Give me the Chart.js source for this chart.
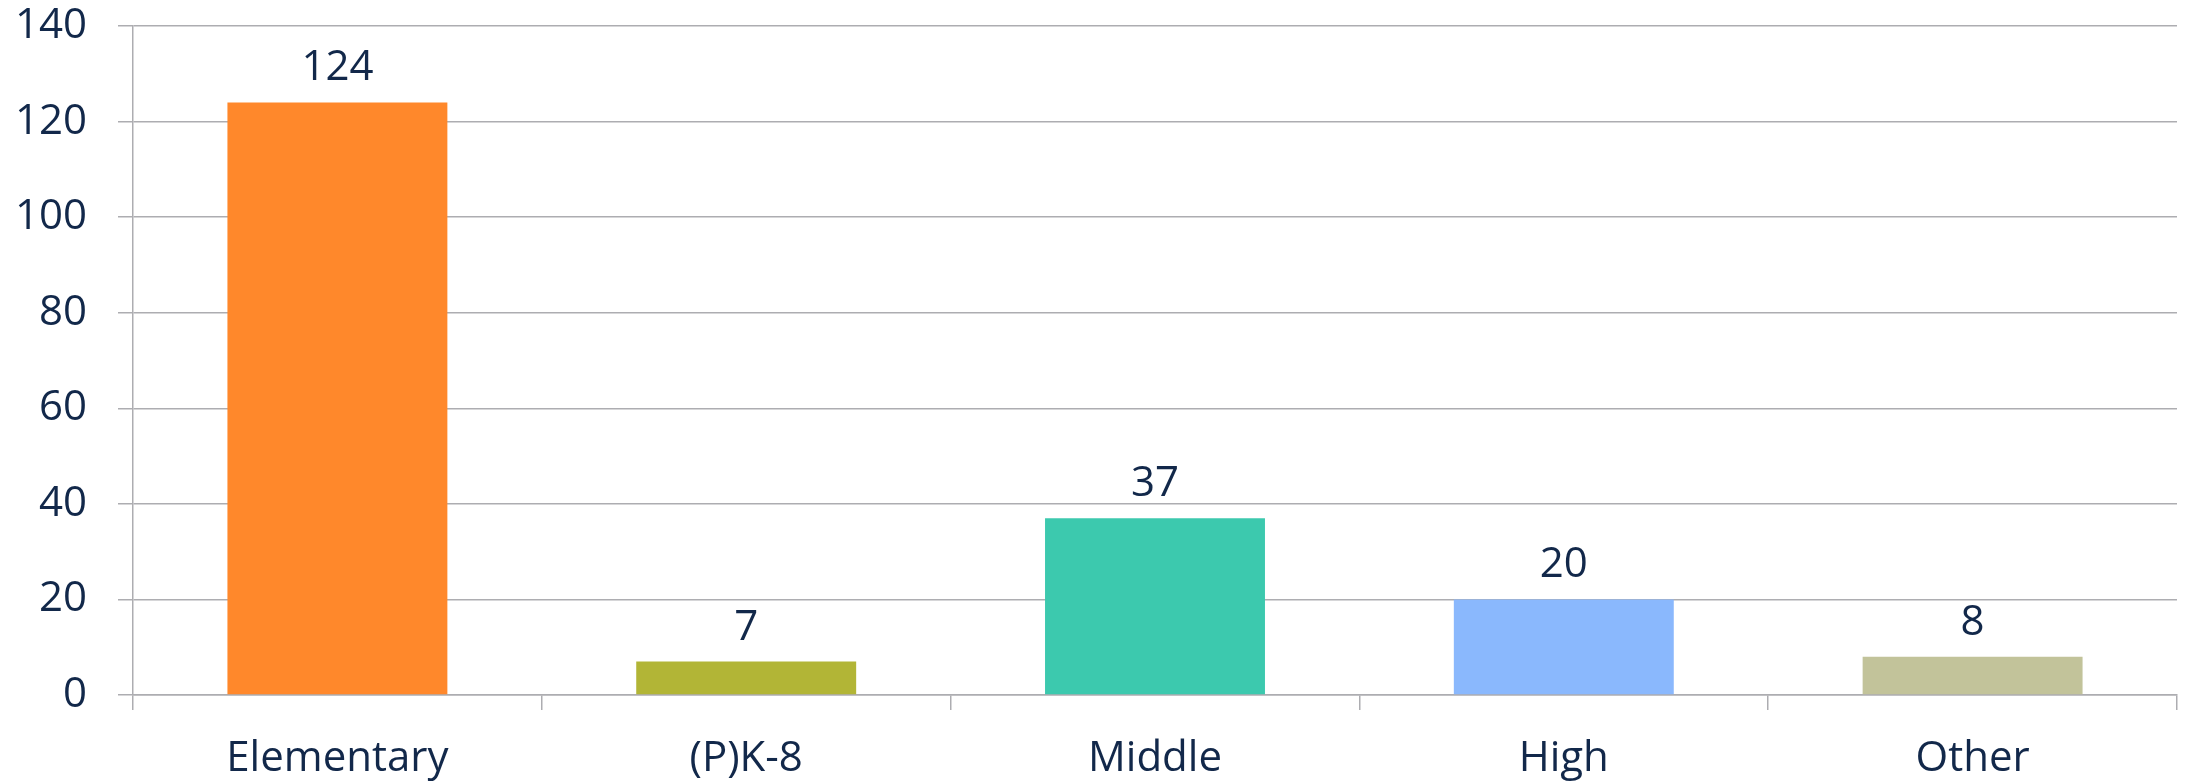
<!DOCTYPE html>
<html>
<head>
<meta charset="utf-8">
<script src="https://cdn.jsdelivr.net/npm/chart.js@4"></script>
<style>
  html, body { margin: 0; padding: 0; background: #fff; }
  #wrap { width: 2188px; height: 782px; }
</style>
</head>
<body>
<div id="wrap"><canvas id="schoolChart" width="2188" height="782"></canvas></div>
<script>
// 데이터
const categories = ['Elementary', '(P)K-8', 'Middle', 'High', 'Other'];
const schoolCounts = [124, 7, 37, 20, 8];
const barColors = ['#FF882B', '#B2B536', '#3CC9AE', '#8AB8FD', '#C2C39A'];
const yTicks = [0, 20, 40, 60, 80, 100, 120, 140];

const textColor = '#12284A';
const gridColor = '#ADADB1';
const fontFamily = '"Open Sans", "Noto Sans", sans-serif';

// 막대 위 숫자 표시
const valueLabels = {
    id: 'valueLabels',
    afterDatasetsDraw(chart) {
        const ctx = chart.ctx;
        const meta = chart.getDatasetMeta(0);
        ctx.save();
        ctx.font = `42px ${fontFamily}`;
        ctx.fillStyle = textColor;
        ctx.textAlign = 'center';
        ctx.textBaseline = 'alphabetic';
        meta.data.forEach((bar, i) => {
            ctx.fillText(String(schoolCounts[i]), bar.x, bar.y - 22);
        });
        ctx.restore();
    }
};

new Chart(document.getElementById('schoolChart').getContext('2d'), {
    type: 'bar',
    data: {
        labels: categories,
        datasets: [{
            data: schoolCounts,
            backgroundColor: barColors,
            borderWidth: 0,
            barPercentage: 0.538,
            categoryPercentage: 1
        }]
    },
    options: {
        responsive: false,
        devicePixelRatio: 1,
        animation: false,
        layout: { padding: { top: 26, right: 11, left: 0, bottom: 0 } },
        plugins: {
            legend: { display: false },
            tooltip: { enabled: false }
        },
        scales: {
            x: {
                afterFit: (scale) => {
                    scale.height = 87;
                    scale.paddingLeft = 0;
                    scale.paddingRight = 0;
                },
                grid: {
                    drawOnChartArea: false,
                    drawTicks: true,
                    tickLength: 15,
                    color: gridColor,
                    lineWidth: 1.5
                },
                border: { color: gridColor, width: 1.5 },
                ticks: {
                    color: textColor,
                    font: { family: fontFamily, size: 42 },
                    padding: 24,
                    maxRotation: 0
                }
            },
            y: {
                min: 0,
                max: 140,
                afterFit: (scale) => {
                    scale.width = 133;
                    scale.paddingTop = 0;
                    scale.paddingBottom = 0;
                },
                afterBuildTicks: (scale) => { scale.ticks = yTicks.map(v => ({ value: v })); },
                grid: {
                    color: gridColor,
                    lineWidth: 1.5,
                    tickLength: 15
                },
                border: { color: gridColor, width: 1.5 },
                ticks: {
                    color: textColor,
                    font: { family: fontFamily, size: 42 },
                    padding: 31
                }
            }
        }
    },
    plugins: [valueLabels]
});
</script>
</body>
</html>
